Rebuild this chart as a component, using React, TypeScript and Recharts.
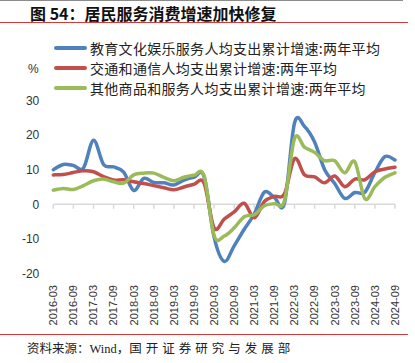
import { LineChart, Line, XAxis, YAxis, ReferenceLine } from "recharts";

const quarters = [
  "2016-03", "2016-06", "2016-09", "2016-12",
  "2017-03", "2017-06", "2017-09", "2017-12",
  "2018-03", "2018-06", "2018-09", "2018-12",
  "2019-03", "2019-06", "2019-09", "2019-12",
  "2020-03", "2020-06", "2020-09", "2020-12",
  "2021-03", "2021-06", "2021-09", "2021-12",
  "2022-03", "2022-06", "2022-09", "2022-12",
  "2023-03", "2023-06", "2023-09", "2023-12",
  "2024-03", "2024-06", "2024-09",
];

// 教育文化娱乐
const eduCulture = [
  10, 11.5, 11.2, 10.5, 18.5, 11.5, 10.8, 9.3, 4, 7.5, 6.3, 6.2,
  5.6, 7, 7.8, 8, -9.5, -16.5, -12, -7.2, -2.8, 3.5, 2, 0.3,
  23.5, 22.5, 18, 10, 6, 1.7, 3.4, 3.5, 9.2, 13.8, 12.8,
];

// 交通和通信
const transportComm = [
  8.5, 8.6, 9.2, 9.7, 9.4, 8, 7, 7.1, 6.5, 6, 5.4, 4.8,
  4.2, 5, 5.8, 6.1, -6.8, -4.3, -2.2, 0.3, -3.9, 0.8, 2.3, 3,
  13.2, 8.5, 7.9, 6.2, 8.2, 5.1, 7.3, 7.1, 9.4, 10.2, 10.7,
];

// 其他商品和服务
const otherGoods = [
  4.1, 4.6, 4.3, 5.4, 6.8, 7.3, 6.5, 6.1, 8.5, 9, 9, 7.8,
  6.8, 7.8, 8.4, 8.2, -9, -9.2, -6.8, -3.6, -3, -0.4, 0.2, 1,
  19, 16.5, 15, 12.6, 12.6, 9.1, 12.3, 1.6, 5.1, 7.8, 9.1,
];

const yTicks = [-20, -15, -10, -5, 0, 5, 10, 15, 20, 25, 30];

const series = [
  { key: "edu", name: "教育文化娱乐服务人均支出累计增速:两年平均", color: "#4f81bd" },
  { key: "trans", name: "交通和通信人均支出累计增速:两年平均", color: "#c0504d" },
  { key: "other", name: "其他商品和服务人均支出累计增速:两年平均", color: "#9bbb59" },
];

const data = quarters.map((q, i) => ({
  q,
  edu: eduCulture[i],
  trans: transportComm[i],
  other: otherGoods[i],
}));

const labelled = quarters.filter((_, i) => i % 2 === 0);

// Excel-style smoothing (Catmull-Rom through every point)
function excelSmooth(context: any) {
  let pts: number[][] = [];
  return {
    areaStart() {},
    areaEnd() {},
    lineStart() {
      pts = [];
    },
    point(x: number, y: number) {
      pts.push([+x, +y]);
    },
    lineEnd() {
      if (!pts.length) return;
      context.moveTo(pts[0][0], pts[0][1]);
      for (let i = 0; i < pts.length - 1; i++) {
        const p0 = pts[i - 1] || pts[i];
        const p1 = pts[i];
        const p2 = pts[i + 1];
        const p3 = pts[i + 2] || p2;
        context.bezierCurveTo(
          p1[0] + (p2[0] - p0[0]) / 6,
          p1[1] + (p2[1] - p0[1]) / 6,
          p2[0] - (p3[0] - p1[0]) / 6,
          p2[1] - (p3[1] - p1[1]) / 6,
          p2[0],
          p2[1],
        );
      }
    },
  };
}

const QuarterTick = (props: any) => {
  const { x, y, payload } = props;
  return (
    <text
      x={x}
      y={y}
      transform={`rotate(-90, ${x}, ${y})`}
      textAnchor="end"
      dy="0.35em"
      fontSize={11}
      fill="#333"
      fontFamily="'Liberation Sans', Arial, sans-serif"
    >
      {payload.value}
    </text>
  );
};

export default function App() {
  return (
    <div
      style={{
        position: "absolute",
        left: 0,
        top: 0,
        width: 415,
        height: 363,
        background: "#fff",
        overflow: "hidden",
      }}
    >
      <div style={{ position: "absolute", left: 0, top: 0, width: 403, height: 1, background: "#8c8c8c" }} />
      <div
        style={{
          position: "absolute",
          left: 30,
          top: 2,
          fontSize: 16,
          fontWeight: 700,
          lineHeight: "22px",
          color: "#111",
          fontFamily: "'Noto Sans CJK SC', sans-serif",
          whiteSpace: "nowrap",
        }}
      >
        图 54：居民服务消费增速加快修复
      </div>
      <div style={{ position: "absolute", left: 0, top: 22, width: 408, height: 1, background: "#d43a3a" }} />

      {series.map((s, i) => (
        <div
          key={s.key}
          style={{ position: "absolute", left: 54, top: 38 + i * 20, height: 20, display: "flex", alignItems: "center" }}
        >
          <div style={{ width: 33, height: 4, borderRadius: 2, background: s.color }} />
          <span
            style={{
              marginLeft: 3,
              fontSize: 14,
              color: "#222",
              fontFamily: "'Noto Sans CJK SC', sans-serif",
              whiteSpace: "nowrap",
              letterSpacing: 0.3,
            }}
          >
            {s.name}
          </span>
        </div>
      ))}
      <div
        style={{
          position: "absolute",
          left: 28,
          top: 62,
          fontSize: 12,
          color: "#333",
          fontFamily: "'Liberation Sans', Arial, sans-serif",
        }}
      >
        %
      </div>

      <div style={{ position: "absolute", left: 0, top: 0 }}>
        <LineChart
          width={415}
          height={363}
          data={data}
          margin={{ top: 100.5, right: 20, bottom: 0, left: 8.3 }}
        >
          <XAxis
            dataKey="q"
            interval={1}
            axisLine={false}
            tickLine={false}
            tickSize={0}
            tickMargin={11.5}
            height={89.5}
            tick={<QuarterTick />}
          />
          <YAxis
            domain={[-20, 30]}
            ticks={yTicks}
            axisLine={false}
            tickLine={false}
            tickSize={0}
            tickMargin={14}
            width={45}
            tick={{ fill: "#333", fontSize: 12, fontFamily: "'Liberation Sans', Arial, sans-serif" }}
          />
          <ReferenceLine y={0} stroke="#d9d9d9" strokeWidth={1.5} />
          {labelled.map((q) => (
            <ReferenceLine
              key={q}
              segment={[
                { x: q, y: 0 },
                { x: q, y: -1.3 },
              ]}
              stroke="#d9d9d9"
              strokeWidth={1.5}
            />
          ))}
          {series.map((s) => (
            <Line
              key={s.key}
              dataKey={s.key}
              name={s.name}
              type={excelSmooth as any}
              stroke={s.color}
              strokeWidth={3.5}
              strokeLinecap="round"
              dot={false}
              activeDot={false}
              isAnimationActive={false}
            />
          ))}
        </LineChart>
      </div>

      <div style={{ position: "absolute", left: 0, top: 334, width: 408, height: 1, background: "#d43a3a" }} />
      <div
        style={{
          position: "absolute",
          left: 27,
          top: 341,
          fontSize: 12.5,
          lineHeight: "16px",
          color: "#222",
          fontFamily: "'Liberation Serif', 'Noto Sans CJK SC', serif",
          whiteSpace: "nowrap",
        }}
      >
        资料来源：Wind，<span style={{ letterSpacing: 4 }}>国开证券研究与发展部</span>
      </div>
    </div>
  );
}
